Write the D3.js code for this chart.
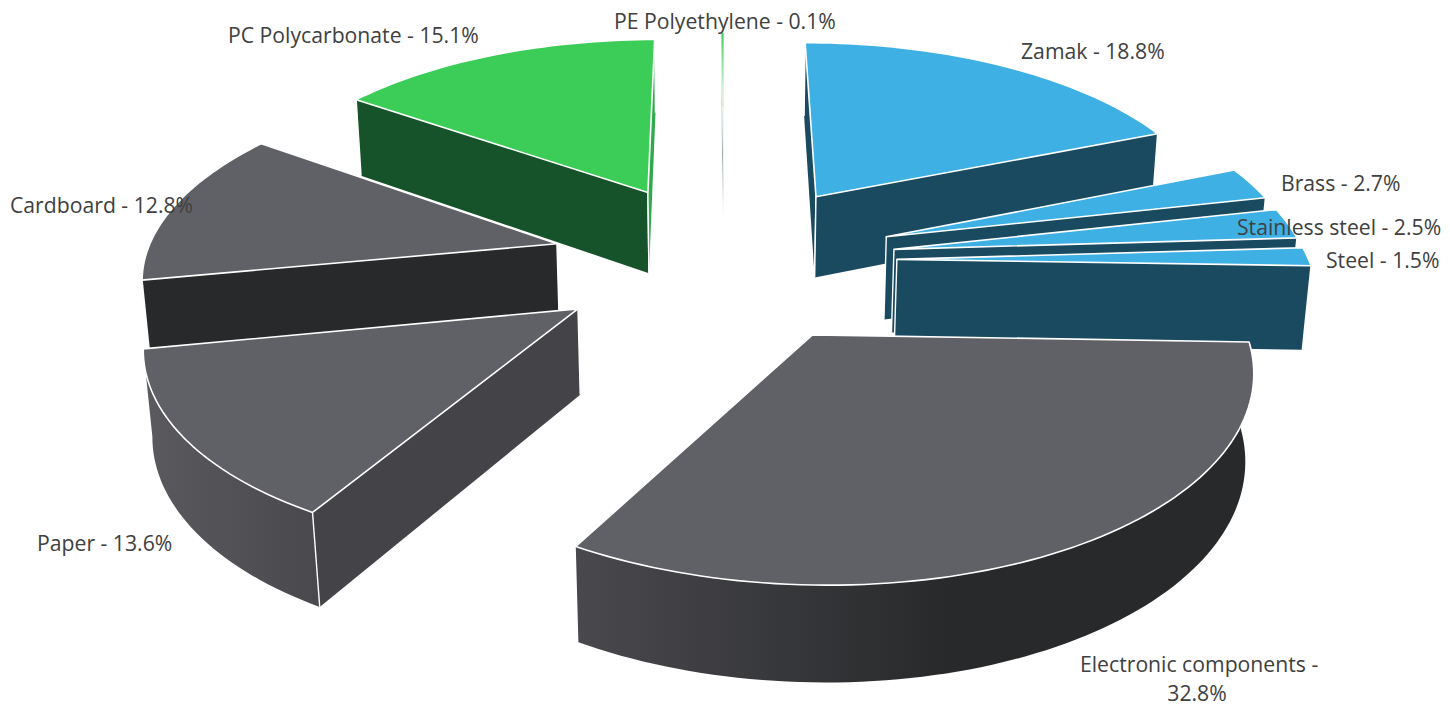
<!DOCTYPE html>
<html>
<head>
<meta charset="utf-8">
<script src="https://cdnjs.cloudflare.com/ajax/libs/d3/7.8.5/d3.min.js"></script>
<style>
    html, body { margin: 0; padding: 0; background: #fff; overflow: hidden; }
    text { font-family: "Open Sans", sans-serif; font-size: 21.2px; fill: #404040; }
</style>
</head>
<body>
<svg id="chart" width="1450" height="707"></svg>
<script>
// values, clockwise from 12 o'clock
const categories = ["Zamak", "Brass", "Stainless steel", "Steel", "Electronic components",
    "Paper", "Cardboard", "PC Polycarbonate", "PE Polyethylene"];
const shares = [18.8, 2.7, 2.5, 1.5, 32.8, 13.6, 12.8, 15.1, 0.1];
const groups = ["metal", "metal", "metal", "metal", "other", "other", "other", "plastic", "plastic"];

// fitted perspective of the 3D pie
const view = {cx: 724, cy: 260.5, rx: 412, ry: 192, near: 0.14, drop: 85, shrink: 0.015, explode: 0.42};

const palette = {
    metal: {top: "#3fb0e4", wall: "#1a4a60"},
    other: {top: "#606166", wall: "#444347"},
    plastic: {top: "#3ccd58", wall: "#17532a"}
};

// shading of the rounded outer wall, where it is not flat
const arcShades = {
    "Paper": {from: [150, "#5a5a5e"], to: [320, "#49494d"]},
    "Electronic components": {from: [580, "#49494d"], to: [950, "#28292b"]}
};
const flatWalls = {"Cardboard": "#28292b"};
const closingWalls = {"PC Polycarbonate": "#33a94f"};

// where each label starts (x, baseline)
const labelLines = [
    {name: "Zamak", x: 1021, y: 59},
    {name: "Brass", x: 1281, y: 191},
    {name: "Stainless steel", x: 1237, y: 235},
    {name: "Steel", x: 1326, y: 268},
    {name: "Paper", x: 37, y: 551},
    {name: "Cardboard", x: 10, y: 213},
    {name: "PC Polycarbonate", x: 228, y: 43},
    {name: "PE Polyethylene", x: 614, y: 29}
];

const svg = d3.select("#chart");
const defs = svg.append("defs");

function addGradient(id, attrs, stops) {
    const grad = defs.append("linearGradient").attr("id", id).attr("gradientUnits", "userSpaceOnUse");
    Object.keys(attrs).forEach(k => grad.attr(k, attrs[k]));
    stops.forEach(s => grad.append("stop").attr("offset", s[0]).attr("stop-color", s[1]));
    return "url(#" + id + ")";
}

// the 0.1% sliver is barely a line and fades out downwards
const sliverTop = addGradient("sliverTop", {x1: 0, x2: 0, y1: 30, y2: 95}, [[0, "#3ccd58"], [1, "#dff5e3"]]);
const sliverWall = addGradient("sliverWall", {x1: 0, x2: 0, y1: 90, y2: 220}, [[0, "#dfe6e1"], [0.5, "#9fb0a5"], [1, "#ffffff"]]);

// ground plane (X right, Y towards the viewer, Z 0 top / 1 bottom) to screen
function project(X, Y, Z) {
    const s = 1 / (1 - view.near * Y + view.shrink * Z);
    return [view.cx + view.rx * X * s, view.cy + (view.ry * Y + view.drop * Z) * s];
}

const pie = d3.pie().sort(null).value(d => d.share).startAngle(0).endAngle(2 * Math.PI);
const slices = pie(categories.map((name, i) => ({name: name, share: shares[i], group: groups[i]})));

const outline = d3.line().curve(d3.curveLinearClosed);
const openLine = d3.line();

slices.forEach(function(d) {
    const mid = (d.startAngle + d.endAngle) / 2;
    d.ox = view.explode * Math.sin(mid);
    d.oy = -view.explode * Math.cos(mid);
    d.apex = Z => project(d.ox, d.oy, Z);
    d.rim = (a, Z) => project(d.ox + Math.sin(a), d.oy - Math.cos(a), Z);
    const steps = Math.max(2, Math.ceil((d.endAngle - d.startAngle) * 40));
    d.angles = d3.range(steps + 1).map(i => d.startAngle + (d.endAngle - d.startAngle) * i / steps);
});

// far slices first, the near ones paint over them
const order = slices.slice().sort((a, b) => a.oy - b.oy);

order.forEach(function(d, i) {
    const g = svg.append("g").attr("class", "slice");
    const colors = palette[d.data.group];
    const tiny = d.data.share < 1;
    const wall = tiny ? sliverWall : (flatWalls[d.data.name] || colors.wall);

    // rounded outer wall
    let arcFill = wall;
    const shade = arcShades[d.data.name];
    if (shade) {
        arcFill = addGradient("shade" + i, {x1: shade.from[0], x2: shade.to[0], y1: 0, y2: 0},
            [[0, shade.from[1]], [1, shade.to[1]]]);
    }
    const strip = d.angles.map(a => d.rim(a, 0)).concat(d.angles.slice().reverse().map(a => d.rim(a, 1)));
    g.append("path").attr("d", outline(strip)).attr("fill", arcFill);

    // radial walls, only those facing the viewer
    [[d.startAngle, 1], [d.endAngle, -1]].forEach(function(w) {
        const quad = [d.apex(0), d.rim(w[0], 0), d.rim(w[0], 1), d.apex(1)];
        if (d3.polygonArea(quad) * w[1] < 0) return;
        const fill = w[1] < 0 && closingWalls[d.data.name] ? closingWalls[d.data.name] : wall;
        g.append("path").attr("d", outline(quad)).attr("fill", fill);
        if (tiny) return;
        g.append("path").attr("d", openLine([quad[3], quad[0]]))
            .attr("stroke", "#fff").attr("stroke-width", 1.4);
        g.append("path").attr("d", openLine([quad[1], quad[2]]))
            .attr("stroke", "#fff").attr("stroke-width", 1.4);
    });

    // top face
    const top = [d.apex(0)].concat(d.angles.map(a => d.rim(a, 0)));
    g.append("path").attr("d", outline(top))
        .attr("fill", tiny ? sliverTop : colors.top)
        .attr("stroke", tiny ? "none" : "#fff")
        .attr("stroke-width", 1.6)
        .attr("stroke-linejoin", "round");
});

// labels sit above everything
const fmt = d => d.toFixed(1) + "%";
const shareOf = name => shares[categories.indexOf(name)];
svg.selectAll("text.label").data(labelLines).enter().append("text")
    .attr("class", "label")
    .attr("x", d => d.x)
    .attr("y", d => d.y)
    .text(d => d.name + " - " + fmt(shareOf(d.name)));

// the long one wraps on two centred lines
svg.append("text").attr("x", 1080).attr("y", 672).text("Electronic components -");
svg.append("text").attr("x", 1197).attr("y", 701).attr("text-anchor", "middle")
    .text(fmt(shareOf("Electronic components")));
</script>
</body>
</html>
